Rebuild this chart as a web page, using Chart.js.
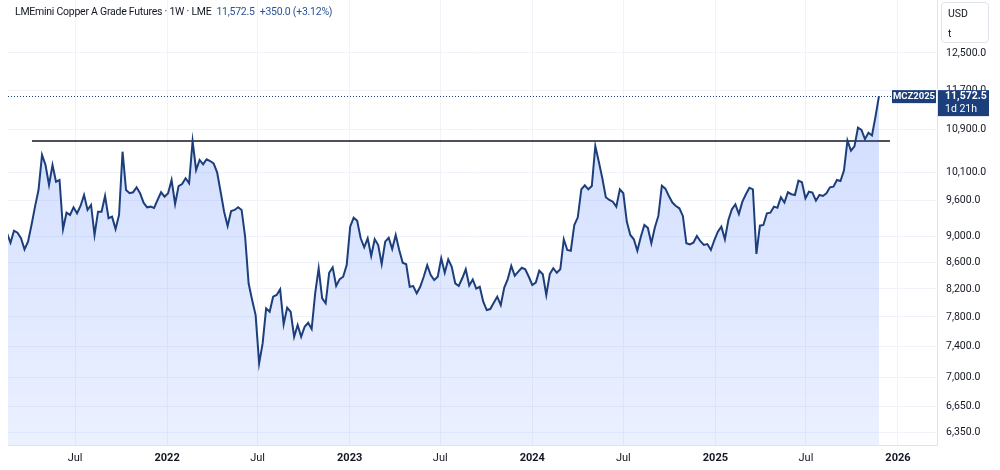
<!DOCTYPE html>
<html lang="en">
<head>
<meta charset="UTF-8">
<title>LMEmini Copper A Grade Futures</title>
<script src="https://cdn.jsdelivr.net/npm/chart.js"></script>
<style>
  body { margin: 0; background: #fff; font-family: Roboto, "Liberation Sans", sans-serif; }
  #wrap { position: relative; width: 1000px; height: 470px; }
  #legend { position: absolute; left: 15px; top: 5px; font-size: 10.5px; letter-spacing: -0.25px; color: #131722; white-space: nowrap; }
  #legend .val { color: #2a5298; margin-left: 5px; }
  #unit { position: absolute; left: 941px; top: 2px; width: 46px; height: 39px; border: 1px solid #e0e3eb;
          border-radius: 4px; font-size: 10.5px; color: #131722; }
  #unit div { position: absolute; left: 6px; }
</style>
</head>
<body>
<div id="wrap">
  <canvas id="copperChart" width="1000" height="470"></canvas>
  <div id="legend">LMEmini Copper A Grade Futures · 1W · LME<span class="val">11,572.5</span><span class="val">+350.0 (+3.12%)</span></div>
  <div id="unit"><div style="top:4px">USD</div><div style="top:24px">t</div></div>
</div>
<script>
// weekly closes, first bar on this Monday
const firstWeek = '2021-02-15';

const closes2021 = [9058, 8906, 9100, 9067, 8977, 8801, 8923, 9193, 9499, 9786,
  10418, 10233, 9873, 10233, 9931, 9962, 9126, 9397, 9359, 9488,
  9387, 9510, 9699, 9443, 9527, 9030, 9414, 9414, 9682, 9304,
  9330, 9126, 9359, 10479, 9786, 9729, 9746, 9833, 9729, 9566,
  9488, 9499, 9476, 9613, 9746, 9669];
const closes2022 = [9729, 9962, 9544, 9855, 9891, 9993, 9904, 10680, 10142, 10325,
  10245, 10338, 10306, 10264, 10100, 9756, 9414, 9176, 9426, 9443,
  9488, 9443, 9001, 8280, 8039, 7826, 7180, 7440, 7921, 7873,
  8087, 8112, 8195, 7698, 7930, 7873, 7529, 7688, 7529, 7665,
  7720, 7634, 8136, 8509, 8064, 7992, 8441, 8523, 8243, 8346,
  8381, 8557];
const closes2023 = [9165, 9313, 9263, 8977, 8833, 8977, 8697, 8961, 8870, 8573,
  8923, 8986, 8806, 9030, 8791, 8594, 8570, 8232, 8243, 8136,
  8232, 8381, 8557, 8406, 8332, 8381, 8661, 8441, 8645, 8532,
  8283, 8243, 8358, 8493, 8250, 8340, 8204, 8232, 8015, 7897,
  7911, 8001, 8087, 7968, 8220, 8346, 8544, 8396, 8457, 8516,
  8493, 8381];
const closes2024 = [8258, 8295, 8472, 8418, 8112, 8421, 8509, 8441, 8493, 8961,
  8791, 8780, 9193, 9320, 9798, 9869, 9798, 9855, 10586, 10294,
  9993, 9659, 9613, 9584, 9499, 9798, 9729, 9246, 9030, 8961,
  8780, 9001, 9193, 9145, 8897, 9151, 9343, 9862, 9809, 9682,
  9569, 9510, 9471, 9343, 8897, 8880, 8906, 9013, 8930, 8870,
  8885, 8791, 8949];
const closes2025 = [9083, 9165, 8961, 9276, 9454, 9539, 9375, 9584, 9712, 9826,
  9798, 8729, 9182, 9193, 9387, 9397, 9499, 9482, 9659, 9569,
  9746, 9712, 9699, 9950, 9922, 9642, 9756, 9740, 9601, 9699,
  9682, 9729, 9833, 9845, 9962, 9944, 10130, 10690, 10497, 10580,
  10938, 10893, 10717, 10841, 10787, 11155, 11572.5];

// horizontal resistance line drawn on the chart
const resistanceLevel = 10680;
const resistanceDates = ['2021-04-06', '2025-12-16'];

const yTicks = [12500, 11700, 10900, 10100, 9600, 9000, 8600, 8200, 7800, 7400, 7000, 6650, 6350];
const xTickDates = ['2021-07-01', '2022-01-01', '2022-07-01', '2023-01-01', '2023-07-01',
  '2024-01-01', '2024-07-01', '2025-01-01', '2025-07-01', '2026-01-01'];
const xTickLabels = ['Jul', '2022', 'Jul', '2023', 'Jul', '2024', 'Jul', '2025', 'Jul', '2026'];

const DAY = 864e5;
function dayNum(s) { return Date.parse(s + 'T00:00:00Z') / DAY; }

const closes = [].concat(closes2021, closes2022, closes2023, closes2024, closes2025);
const start = dayNum(firstWeek);
const pricePoints = closes.map((v, i) => ({ x: start + 7 * i, y: v }));
const resistancePoints = resistanceDates.map(d => ({ x: dayNum(d), y: resistanceLevel }));
const last = closes[closes.length - 1];

const FONT = 'Roboto, "Liberation Sans", sans-serif';
const NAVY = '#1c3f7c';

// no extra room for edge labels, the plot runs to the top of the canvas
function noPad(scale) {
    scale.paddingTop = 0;
    scale.paddingBottom = 0;
    scale.paddingLeft = 0;
    scale.paddingRight = 0;
}

const priceLabel = {
    id: 'priceLabel',
    afterDatasetsDraw(chart) {
        const { ctx, chartArea } = chart;
        const y = chart.scales.y.getPixelForValue(last);
        const boxL = chartArea.right - 45;
        ctx.save();
        ctx.strokeStyle = NAVY;
        ctx.lineWidth = 1;
        ctx.setLineDash([1, 2]);
        ctx.beginPath();
        ctx.moveTo(chartArea.left, Math.round(y) + 0.5);
        ctx.lineTo(boxL, Math.round(y) + 0.5);
        ctx.stroke();
        ctx.setLineDash([]);
        ctx.fillStyle = NAVY;
        ctx.fillRect(boxL, y - 6, 44, 13);
        ctx.fillRect(chartArea.right + 1, y - 6, 51, 26);
        ctx.fillStyle = '#fff';
        ctx.textBaseline = 'middle';
        ctx.textAlign = 'center';
        ctx.font = 'bold 9.5px ' + FONT;
        ctx.fillText('MCZ2025', boxL + 22, y + 0.5);
        ctx.textAlign = 'left';
        ctx.font = 'bold 10.5px ' + FONT;
        ctx.fillText(last.toLocaleString('en-US', { minimumFractionDigits: 1 }), chartArea.right + 8, y + 0.5);
        ctx.font = '10.5px ' + FONT;
        ctx.fillText('1d 21h', chartArea.right + 8, y + 13.5);
        ctx.restore();
    }
};

const ctx = document.getElementById('copperChart').getContext('2d');
new Chart(ctx, {
    type: 'line',
    data: {
        datasets: [{
            data: pricePoints,
            borderColor: NAVY,
            borderWidth: 2,
            pointRadius: 0,
            tension: 0,
            fill: 'start',
            backgroundColor: function(context) {
                const area = context.chart.chartArea;
                if (!area) return 'rgba(41,98,255,0.15)';
                const g = context.chart.ctx.createLinearGradient(0, area.top, 0, area.bottom);
                g.addColorStop(0, 'rgba(41,98,255,0.25)');
                g.addColorStop(1, 'rgba(41,98,255,0.09)');
                return g;
            }
        }, {
            data: resistancePoints,
            borderColor: '#131722',
            borderWidth: 1.5,
            pointRadius: 0,
            fill: false
        }]
    },
    options: {
        responsive: false,
        animation: false,
        layout: { padding: { left: 8, top: 0, right: 0, bottom: 0 } },
        plugins: { legend: { display: false }, tooltip: { enabled: false } },
        scales: {
            x: {
                type: 'linear',
                bounds: 'data',
                min: dayNum('2021-02-17'),
                max: dayNum('2021-02-17') + 1857,
                afterBuildTicks: scale => { scale.ticks = xTickDates.map(d => ({ value: dayNum(d) })); },
                afterFit: scale => { scale.height = 25; noPad(scale); },
                grid: { color: '#f0f3fa', drawTicks: false },
                border: { color: '#e0e3eb' },
                ticks: {
                    autoSkip: false,
                    maxRotation: 0,
                    padding: 7,
                    color: '#131722',
                    callback: (v, i) => xTickLabels[i],
                    font: c => ({ family: FONT, size: 11, weight: /^\d/.test(xTickLabels[c.index]) ? 'bold' : 'normal' })
                }
            },
            y: {
                type: 'logarithmic',
                position: 'right',
                bounds: 'data',
                min: 6205,
                max: 13741,
                afterBuildTicks: scale => { scale.ticks = yTicks.map(v => ({ value: v })); },
                afterFit: scale => { scale.width = 63; noPad(scale); },
                grid: { color: '#f0f3fa', drawTicks: false },
                border: { color: '#e0e3eb' },
                ticks: {
                    padding: 9,
                    color: '#131722',
                    font: { family: FONT, size: 10.5 },
                    callback: v => Number(v).toLocaleString('en-US', { minimumFractionDigits: 1, maximumFractionDigits: 1 })
                }
            }
        }
    },
    plugins: [priceLabel]
});
</script>
</body>
</html>
